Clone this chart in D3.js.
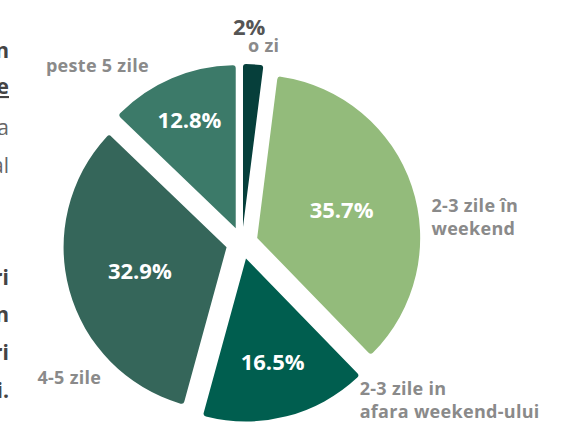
<!DOCTYPE html>
<html>
<head>
<meta charset="utf-8">
<script src="https://cdn.jsdelivr.net/npm/d3@7"></script>
<style>
  body { margin: 0; background: #fff; }
  svg { display: block; font-family: "Open Sans", "Noto Sans", sans-serif; }
</style>
</head>
<body>
<svg width="579" height="423"></svg>
<script>
var svg = d3.select("svg");

// data
var categories = ["o zi", "2-3 zile în weekend", "2-3 zile in afara weekend-ului", "4-5 zile", "peste 5 zile"];
var labelLines = [["o zi"], ["2-3 zile în", "weekend"], ["2-3 zile in", "afara weekend-ului"], ["4-5 zile"], ["peste 5 zile"]];
var values = [2, 35.7, 16.5, 32.9, 12.8];
var colors = ["#063f3b", "#93bb7b", "#005e4f", "#35665a", "#3c7a69"];

// where the category names sit, as an angle (deg) and distance around the pie
var outerAngle = [1.8, 80.7, 142.2, 225, 331.5];
var outerR = [191, 192, 192, 199, 195];
var outerAnchor = ["start", "start", "start", "end", "end"];
var innerR = [0, 105, 123, 106, 134];

// cut-off paragraph on the left edge
var sideText = [
  { t: "în", y: 58, bold: true },
  { t: "de", y: 94, bold: true, u: true },
  { t: "a", y: 135, bold: false },
  { t: "al", y: 173, bold: false },
  { t: "ri", y: 285, bold: true },
  { t: "în", y: 322, bold: true },
  { t: "ri", y: 360, bold: true },
  { t: "i.", y: 398, bold: true }
];

var cx = 242, cy = 243;
var radius = 163;
var explode = 16;

var pie = d3.pie().sort(null).value(function(d) { return d; });
var arcs = pie(values);

var arc = d3.arc().innerRadius(0).outerRadius(radius).cornerRadius(3);

var g = svg.append("g")
  .attr("transform", "translate(" + cx + "," + cy + ")");

function mid(d) { return (d.startAngle + d.endAngle) / 2; }

g.selectAll(".slice")
  .data(arcs)
  .enter().append("path")
  .attr("class", "slice")
  .attr("transform", function(d) {
    var a = mid(d);
    return "translate(" + (Math.sin(a) * explode) + "," + (-Math.cos(a) * explode) + ")";
  })
  .attr("d", arc)
  .attr("fill", function(d, i) { return colors[i]; });

// percent labels inside the bigger slices
g.selectAll(".pct")
  .data(arcs.filter(function(d) { return d.value >= 5; }))
  .enter().append("text")
  .attr("class", "pct")
  .attr("x", function(d) { return Math.sin(mid(d)) * innerR[d.index]; })
  .attr("y", function(d) { return -Math.cos(mid(d)) * innerR[d.index]; })
  .attr("dy", "0.36em")
  .attr("text-anchor", "middle")
  .attr("fill", "#fff")
  .attr("font-weight", "bold")
  .attr("font-size", "22px")
  .text(function(d) { return d.value + "%"; });

// category names
arcs.forEach(function(d, i) {
  var a = outerAngle[i] * Math.PI / 180;
  var x = Math.sin(a) * outerR[i], y = -Math.cos(a) * outerR[i];
  var t = g.append("text")
    .attr("text-anchor", outerAnchor[i])
    .attr("fill", "#8a8a8a")
    .attr("font-weight", "bold")
    .attr("font-size", "18px")
    .attr("letter-spacing", "0.3px");
  labelLines[i].forEach(function(line, k) {
    t.append("tspan").attr("x", x).attr("y", y + k * 23).text(line);
  });
  // small slice: its percent goes outside, above the name
  if (d.value < 5) {
    g.append("text")
      .attr("x", x - 15)
      .attr("y", y - 17)
      .attr("fill", "#555")
      .attr("font-weight", "bold")
      .attr("font-size", "22px")
      .text(d.value + "%");
  }
});

svg.selectAll(".side")
  .data(sideText)
  .enter().append("text")
  .attr("class", "side")
  .attr("x", 9)
  .attr("y", function(d) { return d.y; })
  .attr("text-anchor", "end")
  .attr("font-size", "21px")
  .attr("font-weight", function(d) { return d.bold ? "bold" : "normal"; })
  .attr("fill", function(d) { return d.bold ? "#444" : "#666"; })
  .style("text-decoration", function(d) { return d.u ? "underline" : null; })
  .text(function(d) { return d.t; });
</script>
</body>
</html>
